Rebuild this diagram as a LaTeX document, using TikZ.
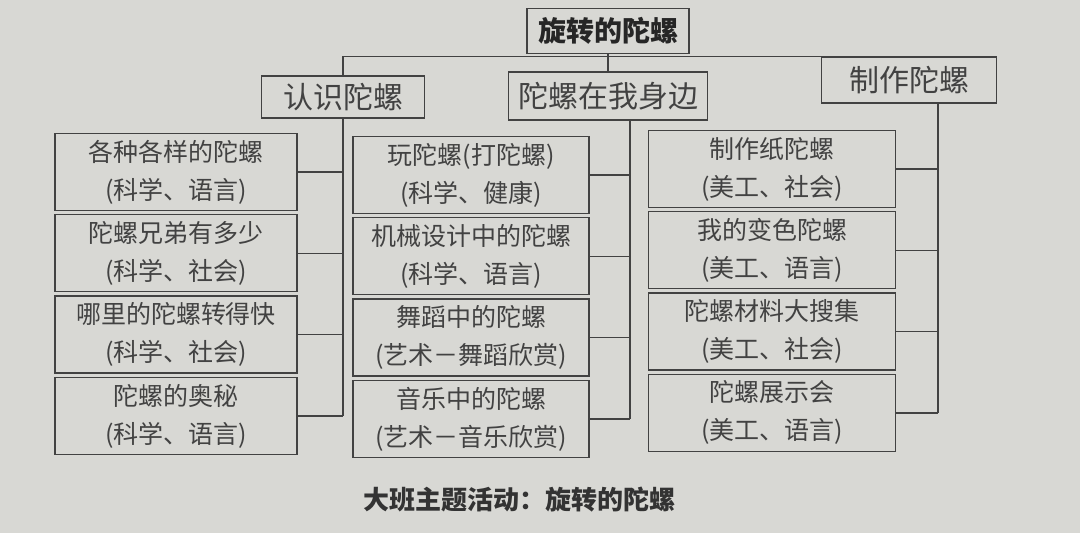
\documentclass[tikz,border=0pt]{standalone}
\usepackage{fontspec}
\usepackage{tikz}
\usetikzlibrary{positioning}
\newfontfamily\cjk{Noto Sans CJK SC}
\definecolor{paper}{RGB}{216,216,212}
\definecolor{ink}{RGB}{66,66,66}

\begin{document}
\begin{tikzpicture}[x=1pt,y=-1pt,node distance=3pt,line width=1.3pt,
  box/.style={draw=ink, fill=paper, text=ink, align=center, inner sep=0pt},
  topic/.style={box, minimum height=46pt, font=\cjk\fontsize{30}{30}\selectfont},
  item/.style={box, minimum height=77pt, font=\cjk\fontsize{25}{38}\selectfont}]
\fill[paper] (0,0) rectangle (1080,533);
\useasboundingbox (0,0) rectangle (1080,533);
\node[box, minimum width=162pt, minimum height=45pt, text=black!85,
      font=\cjk\bfseries\fontsize{28}{28}\selectfont] (root) at (608,31) {旋转的陀螺};
\node[topic, minimum width=163pt, minimum height=42pt] (g1) at (343,97) {认识陀螺};
\node[topic, minimum width=199pt, minimum height=48pt] (g2) at (608,96) {陀螺在我身边};
\node[topic, minimum width=175pt] (g3) at (909,80) {制作陀螺};

\node[item, text width=242pt] (c11) at (176,172) {各种各样的陀螺\\(科学、语言)};
\node[item, text width=242pt, below=of c11] (c12) {陀螺兄弟有多少\\(科学、社会)};
\node[item, text width=242pt, below=of c12] (c13) {哪里的陀螺转得快\\(科学、社会)};
\node[item, text width=242pt, below=of c13] (c14) {陀螺的奥秘\\(科学、语言)};

\node[item, text width=236pt] (c21) at (471,175) {玩陀螺(打陀螺)\\(科学、健康)};
\node[item, text width=236pt, below=of c21] (c22) {机械设计中的陀螺\\(科学、语言)};
\node[item, text width=236pt, below=of c22] (c23) {舞蹈中的陀螺\\(艺术－舞蹈欣赏)};
\node[item, text width=236pt, below=of c23] (c24) {音乐中的陀螺\\(艺术－音乐欣赏)};

\node[item, text width=247pt] (c31) at (772,169) {制作纸陀螺\\(美工、社会)};
\node[item, text width=247pt, below=of c31] (c32) {我的变色陀螺\\(美工、语言)};
\node[item, text width=247pt, below=of c32] (c33) {陀螺材料大搜集\\(美工、社会)};
\node[item, text width=247pt, below=of c33] (c34) {陀螺展示会\\(美工、语言)};

\coordinate (s2) at ([xshift=22pt]g2.south);
\coordinate (s3) at ([xshift=29pt]g3.south);
\draw[ink] (root) -- (g2) (g1.north) |- (g3.north);
\draw[ink] (g1.south) -- (g1.south |- c14.east)
  (c11.east) -- (c11.east -| g1.south) (c12.east) -- (c12.east -| g1.south)
  (c13.east) -- (c13.east -| g1.south) (c14.east) -- (c14.east -| g1.south);
\draw[ink] (s2) -- (s2 |- c24.east)
  (c21.east) -- (c21.east -| s2) (c22.east) -- (c22.east -| s2)
  (c23.east) -- (c23.east -| s2) (c24.east) -- (c24.east -| s2);
\draw[ink] (s3) -- (s3 |- c34.east)
  (c31.east) -- (c31.east -| s3) (c32.east) -- (c32.east -| s3)
  (c33.east) -- (c33.east -| s3) (c34.east) -- (c34.east -| s3);

\node[text=black!80, font=\cjk\bfseries\fontsize{26}{26}\selectfont] (cap) at (519,500) {大班主题活动：旋转的陀螺};
\end{tikzpicture}
\end{document}
